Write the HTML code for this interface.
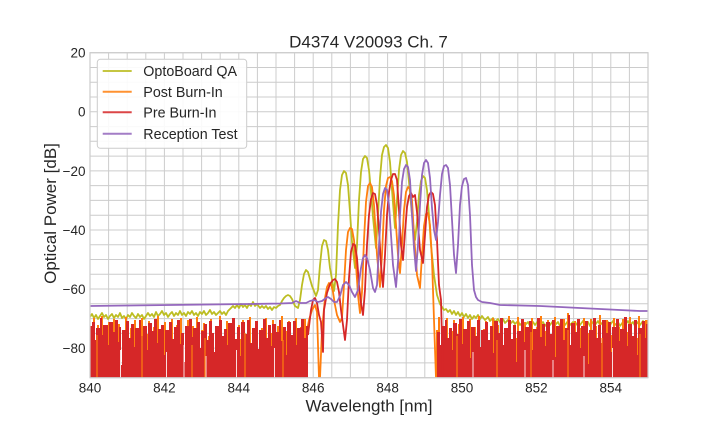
<!DOCTYPE html>
<html>
<head>
<meta charset="utf-8">
<style>
html,body{margin:0;padding:0;background:#fff;}
svg{display:block;}
text{font-family:"Liberation Sans",Arial,sans-serif;fill:#262626;}
</style>
</head>
<body>
<svg width="720" height="432" viewBox="0 0 720 432" xmlns="http://www.w3.org/2000/svg">
<defs>
<clipPath id="ax"><rect x="90" y="52.7" width="558" height="325"/></clipPath>
</defs>
<rect x="0" y="0" width="720" height="432" fill="#fff"/>
<!-- grid -->
<g stroke="#cccccc" stroke-width="1" fill="none">
<path d="M90 52.7V377.7M108.6 52.7V377.7M127.2 52.7V377.7M145.8 52.7V377.7M164.4 52.7V377.7M183 52.7V377.7M201.6 52.7V377.7M220.2 52.7V377.7M238.8 52.7V377.7M257.4 52.7V377.7M276 52.7V377.7M294.6 52.7V377.7M313.2 52.7V377.7M331.8 52.7V377.7M350.4 52.7V377.7M369 52.7V377.7M387.6 52.7V377.7M406.2 52.7V377.7M424.8 52.7V377.7M443.4 52.7V377.7M462 52.7V377.7M480.6 52.7V377.7M499.2 52.7V377.7M517.8 52.7V377.7M536.4 52.7V377.7M555 52.7V377.7M573.6 52.7V377.7M592.2 52.7V377.7M610.8 52.7V377.7M629.4 52.7V377.7M648 52.7V377.7"/>
<path d="M90 52.7H648M90 67.5H648M90 82.2H648M90 97H648M90 111.8H648M90 126.6H648M90 141.3H648M90 156.1H648M90 170.9H648M90 185.6H648M90 200.4H648M90 215.2H648M90 230H648M90 244.7H648M90 259.5H648M90 274.3H648M90 289H648M90 303.8H648M90 318.6H648M90 333.4H648M90 348.1H648M90 362.9H648M90 377.7H648"/>
</g>

<g clip-path="url(#ax)" fill="none" stroke-linejoin="round">
<!-- OptoBoard QA -->
<polyline stroke="#bcbd22" stroke-width="1.8" points="90,317 92,314 94,318 96,315 98,319 100,316 102,313 104,317 106,315 108,319 110,316 112,314 114,318 116,315 118,317 120,313 122,318 124,316 126,319 128,315 130,317 132,313 134,316 136,318 138,314 140,317 142,315 144,319 146,316 148,313 150,316 152,314 154,317 156,312 158,316 160,314 162,311 164,315 166,313 168,317 170,314 172,312 174,316 176,313 178,315 180,311 182,315 184,313 186,316 188,312 190,314 192,311 194,315 196,313 198,316 200,312 202,314 204,311 206,315 208,313 210,310 212,314 214,312 216,315 218,313 220,311 222,314 224,312 226,315 228,311 230,309 233,306 235,308 237,305 239,308 241,304 243,307 245,305 247,308 249,304 251,306 253,302 255,306 257,304 260,308 262,306 264,308 266,306 268,309 270,307 272,310 274,307 276,308 278,306 280,305 282,301 284,298 286,296 288,295 290,296 292,299 295,306 298,308 300,300 302,285 304,274 306,270 308,272 310,279 312,286 316,296 318,290 320,265 322,246 324,240 326,241 328,250 330,268 334,291 336,275 338,225 340,190 342,175 344,171 346,173 348,185 350,212 352,242 355,268 357,245 359,200 361,172 363,159 365,156 367,158 369,170 371,192 373,217 376,248 378,215 380,178 382,155 384,147 386,145 388,148 390,162 392,190 395,228 397,200 399,170 401,155 403,151 405,153 407,162 409,182 412,215 415,240 417,222 419,195 421,181 423,176 425,178 427,190 429,215 431,245 434,275 437,295 440,304 442,307 444,310 446,309 448,312 450,310 452,314 454,311 456,315 458,312 460,316 462,313 464,317 466,314 468,318 470,315 472,319 474,316 476,318 478,315 480,319 482,316 485,320 488,317 490,321 493,318 495,322 498,319 500,322 503,319 505,323 508,320 510,324 513,321 515,324 518,321 520,325 523,322 525,325 528,322 530,326 533,322 535,325 538,321 540,325 543,322 545,326 548,322 550,325 553,321 555,325 558,322 560,326 563,322 565,325 568,321 570,325 573,322 575,326 578,322 580,325 583,321 585,325 588,322 590,326 593,322 595,325 598,321 600,325 603,322 605,326 608,322 610,325 613,321 615,325 618,322 620,326 623,322 625,325 628,321 630,325 633,322 635,326 638,322 640,325 643,321 645,325 648,323"/>

<!-- Post Burn-In noise (step columns) -->
<path fill="#ff7f0e" stroke="none" d="M90 378V333H93V318H95V378H97V325H99V340H101V316H103V378H106V330H108V322H110V378H113V319H115V335H118V324H120V378H123V336H125V317H127V378H130V328H132V345H134V320H136V378H139V331H141V318H143V378H146V334H148V321H150V378H153V327H155V339H157V316H159V378H162V329H164V322H166V378H169V337H171V319H173V378H176V325H178V341H180V318H182V378H185V332H187V320H189V378H192V326H194V338H196V317H198V378H201V330H203V323H205V378H208V336H210V319H212V378H215V327H217V340H219V316H221V378H224V331H226V321H228V378H231V334H233V318H235V378H238V325H240V339H242V320H244V378H247V330H249V317H251V378H254V336H256V322H258V378H261V328H263V341H265V318H267V378H270V333H272V320H274V378H277V326H279V338H281V316H283V378H286V331H288V321H290V378H293V335H295V318H297V378H300V327H302V340H304V319H306V378Z"/>
<path fill="#ff7f0e" stroke="none" d="M436 378V330H438V317H440V378H442V326H444V339H446V318H448V378H451V331H453V320H455V378H458V324H460V337H462V317H464V378H467V333H469V319H471V378H474V327H476V340H478V316H480V378H483V329H485V321H487V378H490V336H492V318H494V378H497V325H499V341H501V319H503V378H506V332H508V316H510V378H513V326H515V338H517V317H519V378H522V330H524V322H526V378H529V335H531V318H533V378H536V327H538V340H540V316H542V378H545V331H547V320H549V378H552V334H554V317H556V378H559V325H561V339H563V319H565V378H567V313H569V378H572V336H574V321H576V378H579V328H581V341H583V318H585V378H588V333H590V319H592V378H595V326H597V338H599V315H601V378H604V331H606V320H608V378H611V335H613V318H615V378H618V327H620V340H622V319H624V378H627V332H629V317H631V378H634V325H636V338H638V316H640V378H643V330H645V320H648V378Z"/>
<!-- Post Burn-In peaks -->
<polyline stroke="#ff7f0e" stroke-width="1.8" points="306,335 309,320 312,310 315,305 317,312 319,378 320,378 322,330 325,298 327,287 329,283 331,284 333,292 335,305 337,315 340,322 342,318 344,285 346,250 348,232 350,228 352,229 354,240 356,265 358,295 360,313 362,292 364,240 366,202 368,186 370,183 372,187 374,205 377,255 380,287 382,255 384,210 386,186 388,178 390,177 392,181 394,195 396,225 398,255 400,273 402,245 404,210 406,192 408,187 410,189 412,200 414,235 417,275 420,288 422,255 424,226 426,214 428,213 430,225 432,260 434,320 436,378"/>

<!-- Pre Burn-In noise (step columns) -->
<path fill="#d62728" stroke="none" d="M90 378V326H92V322H95V340H96V328H100V318H102V335H103V325H108V345H109V322H113V332H115V320H118V342H119V327H121V365H122V330H126V321H129V338H131V324H134V347H135V328H139V320H141V336H143V326H147V350H148V323H152V331H154V319H157V343H158V329H161V325H164V355H165V330H169V322H172V339H174V327H177V320H180V344H181V333H184V362H185V326H189V319H192V337H193V328H197V322H200V348H201V331H204V324H207V340H209V321H212V333H214V352H215V326H219V320H222V336H224V329H227V345H228V323H232V318H235V339H237V327H240V356H241V322H245V334H247V320H250V343H252V328H255V321H258V349H259V330H263V319H266V338H268V325H271V346H272V324H276V332H279V320H281V341H283V327H286V355H287V322H291V335H293V321H296V345H297V328H301V319H304V338H306V326H308V378Z"/>
<path fill="#d62728" stroke="none" d="M437 378V332H440V345H441V326H445V320H447V338H449V328H452V350H453V323H457V334H459V319H462V344H463V329H467V321H470V358H471V327H475V336H477V320H480V347H481V330H485V322H488V340H490V326H493V353H494V321H498V333H500V318H503V345H504V328H508V320H511V339H513V325H516V362H517V331H521V319H524V342H525V327H529V321H532V350H533V329H537V318H540V337H542V324H545V346H546V322H550V334H552V320H555V357H556V326H560V319H563V340H565V328H568V315H570V345H571V323H575V332H577V319H580V348H581V326H585V321H588V364H589V330H593V318H596V338H598V325H601V343H602V320H606V333H608V322H611V352H612V327H616V319H619V341H620V329H624V317H627V346H628V324H632V336H634V320H637V355H638V328H642V321H645V338H646V324H648V378Z"/>
<!-- gaps & orange streaks inside noise -->
<g stroke="#ffffff" stroke-width="1" opacity="0.85">
<path d="M120.5 350V378M166.5 352V378M184 345V378M236.5 350V378M274.5 348V378M206 356V378M473 352V378M525 350V378M584 356V378M612.5 348V378M553 360V378"/>
</g>
<g stroke="#ff7f0e" stroke-width="1.2">
<path d="M97 335V378M142 330V378M205 338V378M245 333V378M192 345V378M283 340V378M457 336V378M497 340V378M531 332V378M568 330V378M602 338V378M640 334V378"/>
</g>
<!-- Pre Burn-In peaks -->
<polyline stroke="#d62728" stroke-width="1.8" points="308,335 311,310 313,300 315,298 317,303 319,315 321,322 323,352 324,310 327,293 330,284 333,280 335,279 337,282 339,292 341,310 343,325 345,340 347,320 349,278 351,252 353,244 355,245 357,258 359,285 361,303 363,315 365,290 367,245 369,215 371,199 373,193 375,194 377,205 379,230 381,265 383,287 385,255 387,215 389,192 391,180 393,174 395,174 397,180 399,210 401,245 403,260 405,232 407,207 409,196 411,193 413,197 415,195 417,212 420,250 423,263 425,235 427,207 429,195 431,192 433,194 435,205 437,240 439,285 441,300 443,378"/>

<!-- Reception Test -->
<polyline stroke="#9467bd" stroke-width="1.8" points="90,306 130,305.5 170,305 210,304.5 250,304 280,303.5 292,303 296,301 300,303 306,303 310,301 314,300 318,302 322,301 326,298 328,297 331,299 334,302 337,302 340,296 343,285 346,282 349,285 352,292 355,297 358,290 361,268 363,258 365,255 367,258 370,270 373,288 375,292 377,285 379,245 381,212 383,194 385,188 387,190 389,205 391,235 393,265 396,287 398,262 400,215 402,182 404,169 406,165 408,167 410,180 412,215 414,248 416,271 418,245 420,205 422,175 424,163 426,160 428,163 430,178 432,208 434,230 436,240 438,222 440,195 442,174 444,166 446,165 448,168 450,185 452,220 454,255 456,273 458,245 460,205 462,186 464,179 466,178 468,185 470,215 472,265 474,290 476,297 478,300 482,302 490,303 500,305 520,305.5 540,306 560,307 580,308 600,309 620,310 640,311 648,311"/>
</g>

<!-- axes frame -->
<rect x="90" y="52.7" width="558" height="325" fill="none" stroke="#cccccc" stroke-width="1.2"/>

<!-- legend -->
<rect x="97.3" y="59.3" width="149.4" height="89" rx="3" ry="3" fill="#ffffff" fill-opacity="0.9" stroke="#cccccc" stroke-width="1"/>
<g stroke-width="2" opacity="0.85">
<line x1="102.7" y1="71" x2="131.7" y2="71" stroke="#bcbd22"/>
<line x1="102.7" y1="91.7" x2="131.7" y2="91.7" stroke="#ff7f0e"/>
<line x1="102.7" y1="112.3" x2="131.7" y2="112.3" stroke="#d62728"/>
<line x1="102.7" y1="133.7" x2="131.7" y2="133.7" stroke="#9467bd"/>
</g>
<g font-size="14.3">
<text x="143.3" y="76">OptoBoard QA</text>
<text x="143.3" y="96.8">Post Burn-In</text>
<text x="143.3" y="117.4">Pre Burn-In</text>
<text x="143.3" y="138.8">Reception Test</text>
</g>

<!-- tick labels -->
<g font-size="13.5" text-anchor="middle">
<text x="90" y="392.3">840</text>
<text x="164.4" y="392.3">842</text>
<text x="238.8" y="392.3">844</text>
<text x="313.2" y="392.3">846</text>
<text x="387.6" y="392.3">848</text>
<text x="462" y="392.3">850</text>
<text x="536.4" y="392.3">852</text>
<text x="610.8" y="392.3">854</text>
</g>
<g font-size="13.5" text-anchor="end">
<text x="85.5" y="57.6">20</text>
<text x="85.5" y="116.7">0</text>
<text x="85.5" y="175.8">−20</text>
<text x="85.5" y="234.9">−40</text>
<text x="85.5" y="293.9">−60</text>
<text x="85.5" y="353">−80</text>
</g>

<!-- labels & title -->
<text x="368.5" y="47.7" font-size="17" text-anchor="middle">D4374 V20093 Ch. 7</text>
<text x="369" y="411.7" font-size="17" text-anchor="middle">Wavelength [nm]</text>
<text transform="translate(56,213.5) rotate(-90)" font-size="17" text-anchor="middle">Optical Power [dB]</text>
</svg>
</body>
</html>
